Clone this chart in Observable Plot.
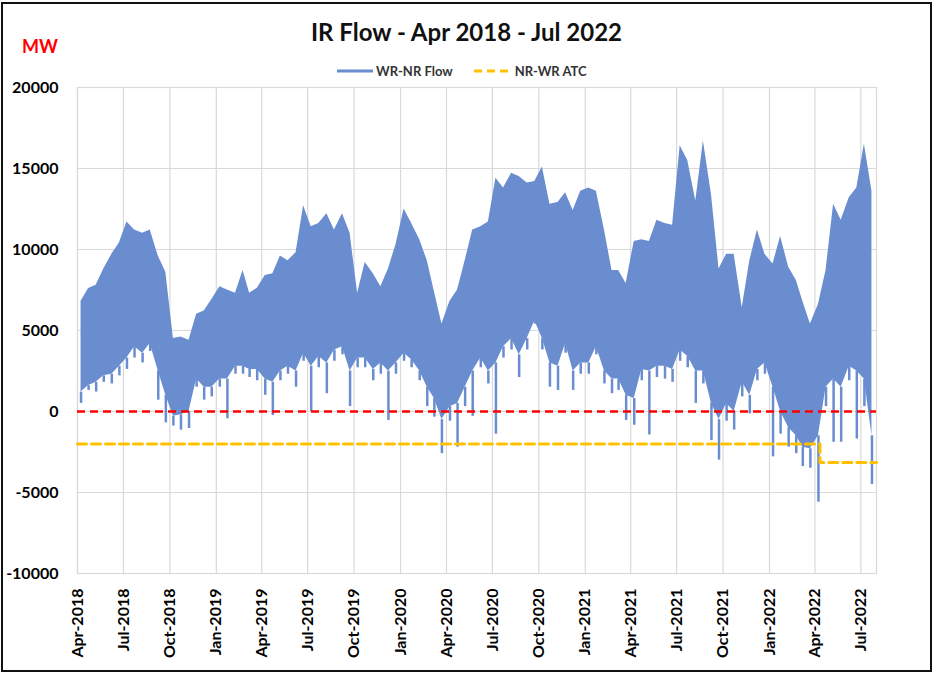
<!DOCTYPE html>
<html><head><meta charset="utf-8">
<script src="https://cdn.jsdelivr.net/npm/d3@7"></script>
<script src="https://cdn.jsdelivr.net/npm/@observablehq/plot@0.6"></script>
<style>
body{margin:0;background:#fff;}
#wrap{position:relative;width:933px;height:673px;overflow:hidden;font-family:Lato,"Open Sans",sans-serif;background:#fff;}
#box{position:absolute;left:1px;top:2px;width:927px;height:666px;border:2px solid #111;}
#title{position:absolute;left:0;width:933px;top:17px;text-align:center;font-weight:bold;font-size:24px;color:#111;}
#mw{position:absolute;left:22px;top:35px;color:#f00;font-weight:bold;font-size:18px;}
#legend{position:absolute;top:63px;left:337px;font-size:13px;font-weight:bold;color:#333;display:flex;align-items:center;white-space:nowrap;}
#legend svg{display:block;}
#chart{position:absolute;left:0;top:70px;}
</style></head>
<body>
<div id="wrap">
  <div id="box"></div>
  <div id="title">IR Flow - Apr 2018 - Jul 2022</div>
  <div id="mw">MW</div>
  <div id="legend">
    <svg width="36" height="16"><line x1="0" y1="8" x2="36" y2="8" stroke="#6a8dd0" stroke-width="3"/></svg>
    <span style="margin-left:3px">WR-NR Flow</span>
    <svg width="40" height="16" style="margin-left:20px"><line x1="1" y1="8" x2="39" y2="8" stroke="#ffc000" stroke-width="3" stroke-dasharray="8,5"/></svg>
    <span style="margin-left:2px">NR-WR ATC</span>
  </div>
  <div id="chart"></div>
</div>
<script>
// Tick labels
const xTickLabels = ["Apr-2018","Jul-2018","Oct-2018","Jan-2019","Apr-2019","Jul-2019","Oct-2019","Jan-2020","Apr-2020","Jul-2020","Oct-2020","Jan-2021","Apr-2021","Jul-2021","Oct-2021","Jan-2022","Apr-2022","Jul-2022"];
const yTicks = [-10000, -5000, 0, 5000, 10000, 15000, 20000];

// WR-NR Flow, read per half-month (Apr 2018 .. Jul 2022, two per month), MW
// highest value in each half-month
const flowHigh = [
  6800, 7600, 7800, 8800, 9700, 10400, 11700, 11200, 11000, 11200, 9600, 8600, 4500, 4600, 4400, 6000, 6200, 6900,
  7700, 7500, 7300, 8700, 7300, 7600, 8400, 8500, 9600, 9300, 9800, 12700, 11400, 11600, 12200, 11200, 12200, 11000, 7300, 9200, 8500, 7700, 8800, 10300,
  12500, 11600, 10600, 9300, 7400, 5400, 6800, 7500, 9300, 11200, 11400, 11700, 14400, 13800, 14700, 14500, 14100, 14200, 15100, 12800, 12900, 13500, 12400, 13600,
  13800, 13600, 11200, 8700, 8700, 7900, 10500, 10600, 10500, 11800, 11600, 11500, 16400, 15500, 13000, 16700, 13400, 8800, 9700, 9700, 6400, 9300, 11200, 9700,
  9100, 10800, 8900, 8100, 6800, 5400, 6600, 8700, 12800, 11800, 13200, 13800, 16500, 13600
];
// typical lower edge of the band in each half-month
const flowBase = [
  1200, 1600, 1800, 2200, 2300, 2800, 3300, 4000, 3600, 4200, 2500, 1000, -300, -200, 0, 2000, 1500, 1500,
  2000, 2000, 2800, 2800, 2600, 2600, 2000, 1800, 2500, 2800, 2500, 3600, 2800, 3400, 3000, 3800, 4000, 2500, 3300, 3300, 2600, 3000, 2500, 3000,
  3600, 3200, 2500, 1500, 800, -500, 300, 500, 1500, 2500, 3300, 2500, 3000, 4000, 4500, 3500, 4500, 5600, 4500, 3000, 2800, 4200, 2500, 3000,
  3000, 4000, 2500, 2000, 2000, 1000, 800, 2600, 2500, 2800, 2800, 2600, 3800, 3400, 2500, 2500, 500, -500, 500, 0, 1800, 1000, 2600, 3000,
  1500, 0, -1000, -1500, -2200, -2300, -1500, 1500, 2000, 1500, 2800, 2500, 2000, -1500
];
// lowest value (short dips) in each half-month
const flowLow = [
  500, 1300, 1200, 1800, 1700, 2200, 2600, 3300, 3000, 3700, 700, -700, -900, -1150, -1050, 1500, 700, 900,
  1500, -450, 2300, 2300, 2100, 1900, 1000, -250, 1900, 2300, 1500, 3100, 0, 2700, 1100, 3100, 3500, 300, 2700, 2700, 1900, 2300, -550, 2300,
  3100, 2700, 1900, 300, -350, -2600, -600, -2200, 300, -300, 2700, 1700, -1400, 3300, 3800, 2100, 3800, 5400, 3800, 1500, 1300, 3600, 1300, 2300,
  2300, 3500, 1700, 1100, 1300, -550, -850, 1900, -1450, 2100, 2000, 1800, 3100, 2700, 500, 1700, -1800, -3000, -600, -1150, 900, -150, 1900, 2300,
  -2800, -1400, -2200, -2600, -3400, -3500, -5600, 300, -1900, -1900, 1900, -1700, 300, -4500
];

// NR-WR ATC (MW)
const atcDates = ["2018-04-01", "2022-04-11", "2022-08-01"];
const atcValues = [-2000, -3150, -3150];
const zeroLine = [0];

const parseTick = d3.utcParse("%b-%Y");
const tickDates = xTickLabels.map(parseTick);
const start = new Date(Date.UTC(2018, 3, 1));
const flowData = flowHigh.map((hi, i) => {
  const m = d3.utcMonth.offset(start, Math.floor(i / 2));
  const date = new Date(Date.UTC(m.getUTCFullYear(), m.getUTCMonth(), i % 2 === 0 ? 8 : 23));
  return {date, hi, base: flowBase[i], lo: flowLow[i]};
});
const atcData = atcDates.map((d, i) => ({date: new Date(d), v: atcValues[i]}));

const blue = "#6a8dd0";
const chart = Plot.plot({
  width: 933,
  height: 600,
  marginLeft: 77,
  marginRight: 57,
  marginTop: 17,
  marginBottom: 97,
  style: {fontFamily: "Lato, 'Open Sans', sans-serif", fontSize: "16px", fontWeight: "bold", color: "#000", background: "transparent", overflow: "visible"},
  x: {type: "utc", domain: [new Date("2018-04-01"), new Date("2022-08-01")]},
  y: {domain: [-10000, 20000]},
  marks: [
    Plot.gridX(tickDates, {stroke: "#d9d9d9", strokeOpacity: 1, strokeWidth: 1.2}),
    Plot.gridY(yTicks, {stroke: "#d9d9d9", strokeOpacity: 1, strokeWidth: 1.2}),
    Plot.frame({stroke: "#d9d9d9", strokeWidth: 1.2}),
    Plot.areaY(flowData, {x: "date", y1: "base", y2: "hi", fill: blue}),
    Plot.ruleX(flowData.filter(d => d.lo < d.base), {x: "date", y1: "lo", y2: "base", stroke: blue, strokeWidth: 2.5}),
    Plot.ruleY(zeroLine, {stroke: "#ff0000", strokeWidth: 2.5, strokeDasharray: "8,5"}),
    Plot.line(atcData, {x: "date", y: "v", curve: "step-after", stroke: "#ffc000", strokeWidth: 3, strokeDasharray: "9,5"}),
    Plot.axisX(tickDates, {tickFormat: d3.utcFormat("%b-%Y"), tickRotate: -90, tickSize: 0, tickPadding: 15, label: null, fontSize: 16}),
    Plot.axisY(yTicks, {tickSize: 0, tickPadding: 19, label: null, tickFormat: d => String(d), fontSize: 16})
  ]
});
document.getElementById("chart").appendChild(chart);
</script>
</body></html>
